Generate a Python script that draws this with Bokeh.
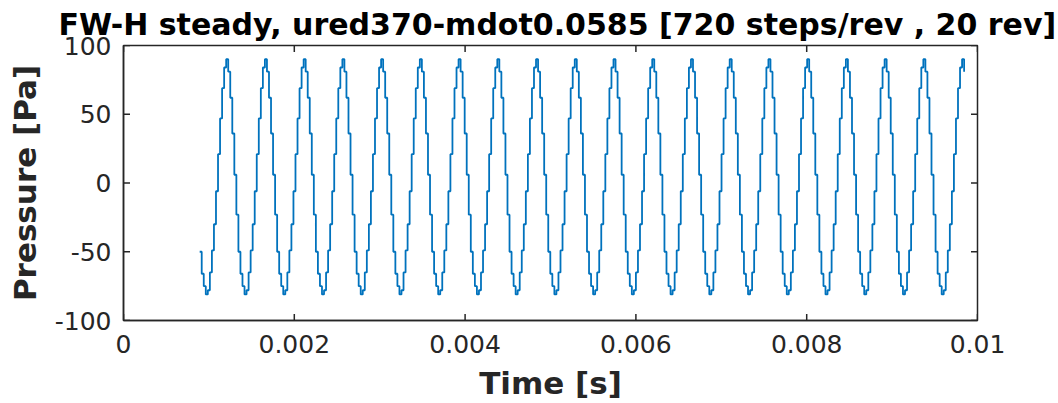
import numpy as np
from bokeh.plotting import figure
from bokeh.models import Range1d, LinearAxis, FixedTicker
from bokeh.embed import file_html
from bokeh.resources import INLINE

# Pressure levels over one blade-passing cycle, starting at the crest [Pa]
cycle_levels = [90, 81, 62, 36, 6, -23, -50, -66, -75, -81,
                -78, -65, -49, -30, -6, 21, 47, 69, 84]
start_phase = 6          # index in cycle_levels of the first sample
t_start = 0.000892       # first output time [s]
dt = 2.387e-5            # output interval [s]
n_samples = 376

x_ticks = [0, 0.002, 0.004, 0.006, 0.008, 0.01]
x_tick_labels = ["0", "0.002", "0.004", "0.006", "0.008", "0.01"]
y_ticks = [-100, -50, 0, 50, 100]
y_tick_labels = ["-100", "-50", "0", "50", "100"]

title_text = "FW-H steady, ured370-mdot0.0585 [720 steps/rev , 20 rev]"
x_label = "Time [s]"
y_label = "Pressure [Pa]"

# Time series of the stepped pressure signal
idx = (start_phase + np.arange(n_samples)) % len(cycle_levels)
pressure = np.asarray(cycle_levels, dtype=float)[idx]
time = t_start + dt * np.arange(n_samples)

AX = "#262626"
FONT = "DejaVu Sans"
X0, X1 = 0.0, 0.01
Y0, Y1 = -100.0, 100.0
FRAME_W, FRAME_H = 854, 275
TICK_PX = 6.5

p = figure(width=1058, height=403, output_backend="svg", toolbar_location=None,
           x_range=Range1d(X0, X1), y_range=Range1d(Y0, Y1),
           x_axis_location=None, y_axis_location=None,
           min_border_left=123, min_border_right=81,
           min_border_top=45, min_border_bottom=83)
p.background_fill_color = "white"
p.border_fill_color = "white"
p.outline_line_color = AX
p.outline_line_width = 1.5
p.xgrid.visible = False
p.ygrid.visible = False

p.title.text = title_text
p.title.text_font = FONT
p.title.text_font_style = "bold"
p.title.text_font_size = "30px"
p.title.text_color = "black"
p.title.align = "left"
p.title.offset = -65
p.title.standoff = 7


def make_axis(ticks, labels, standoff, label, label_standoff):
    ax = LinearAxis(ticker=FixedTicker(ticks=ticks),
                    major_label_overrides={t: l for t, l in zip(ticks, labels)})
    ax.axis_line_color = AX
    ax.axis_line_width = 1.5
    ax.major_tick_line_color = None
    ax.major_tick_in = 0
    ax.major_tick_out = 0
    ax.minor_tick_line_color = None
    ax.major_label_text_font = FONT
    ax.major_label_text_color = AX
    ax.major_label_standoff = standoff
    ax.major_label_text_font_size = "25px"
    ax.axis_label = label
    ax.axis_label_text_font = FONT
    ax.axis_label_text_font_style = "bold"
    ax.axis_label_text_font_size = "31px"
    ax.axis_label_text_color = AX
    ax.axis_label_standoff = label_standoff
    return ax


p.add_layout(make_axis(x_ticks, x_tick_labels, 14, x_label, 9), "below")
p.add_layout(make_axis(y_ticks, y_tick_labels, 12, y_label, 9), "left")

# Inward tick marks on all four sides of the box
xt = np.asarray(x_ticks, dtype=float)
yt = np.asarray(y_ticks, dtype=float)
dy = TICK_PX * (Y1 - Y0) / FRAME_H
dx = TICK_PX * (X1 - X0) / FRAME_W
tick_style = dict(line_color=AX, line_width=1.5)
p.segment(xt, np.full_like(xt, Y0), xt, np.full_like(xt, Y0 + dy), **tick_style)
p.segment(xt, np.full_like(xt, Y1), xt, np.full_like(xt, Y1 - dy), **tick_style)
p.segment(np.full_like(yt, X0), yt, np.full_like(yt, X0 + dx), yt, **tick_style)
p.segment(np.full_like(yt, X1), yt, np.full_like(yt, X1 - dx), yt, **tick_style)

p.step(time, pressure, mode="after", line_color="#0072BD", line_width=1.8)

open("out.html", "w").write(file_html(p, INLINE))
